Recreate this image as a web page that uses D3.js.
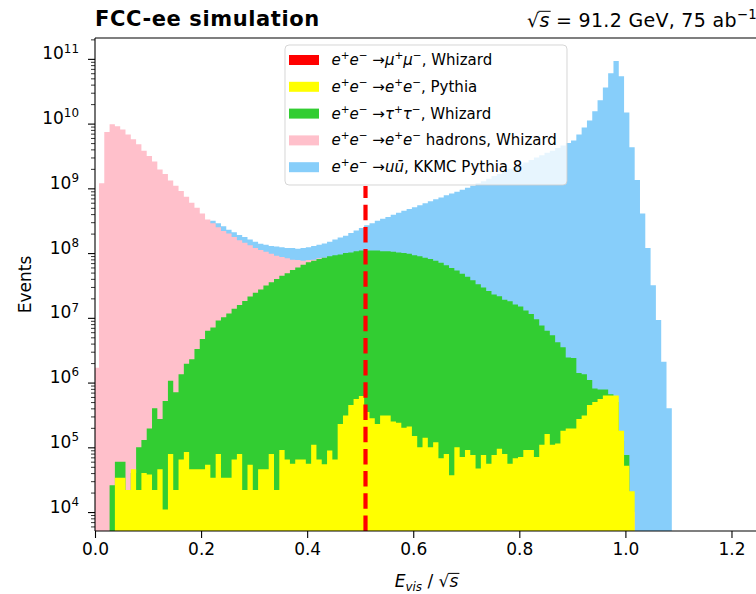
<!DOCTYPE html>
<html lang="en">
<head>
<meta charset="UTF-8">
<title>FCC-ee simulation - visible energy</title>
<script src="https://cdn.jsdelivr.net/npm/d3@7"></script>
<style>
  body { margin: 0; background: #fff; }
  svg text { font-family: "DejaVu Sans", sans-serif; fill: #000; }
</style>
</head>
<body>
<script>
// Histogram binning (E_vis / sqrt(s)), one count per bin
const binStart = -0.0025;
const binWidth = 0.01;

// Events per bin
const mumuCounts = [];  // nothing above the axis floor
const eeCounts = [
  0, 0, 0, 0, 3.4e4, 3.4e4, 2.2e4, 4.6e4, 2.2e4, 4.0e4,
  3.8e4, 2.2e4, 4.6e4, 1.1e4, 7.9e4, 2.2e4, 6.5e4, 8.5e4, 4.6e4, 4.6e4,
  4.6e4, 5.4e4, 3.4e4, 7.9e4, 3.4e4, 3.4e4, 6.5e4, 7.9e4, 2.2e4, 5.4e4,
  2.2e4, 4.6e4, 4.6e4, 7.9e4, 2.2e4, 9.1e4, 6.5e4, 5.6e4, 6.5e4, 6.5e4,
  5.6e4, 1.1e5, 6.5e4, 5.5e4, 8.9e4, 6.5e4, 2.3e5, 3.1e5, 4.5e5, 5.6e5,
  6.2e5, 3.5e5, 2.8e5, 2.3e5, 3.1e5, 3.1e5, 2.5e5, 2.4e5, 2.0e5, 2.1e5,
  1.5e5, 1.0e5, 1.4e5, 1.0e5, 1.2e5, 6.8e4, 7.9e4, 3.7e4, 1.0e5, 7.1e4,
  9.1e4, 7.6e4, 4.7e4, 7.6e4, 5.6e4, 7.6e4, 9.5e4, 7.9e4, 5.6e4, 6.8e4,
  7.1e4, 9.1e4, 9.1e4, 7.1e4, 1.1e5, 1.6e5, 1.1e5, 1.15e5, 1.8e5, 1.95e5,
  1.95e5, 2.75e5, 3.1e5, 4.5e5, 5.0e5, 5.6e5, 6.3e5, 6.3e5, 6.3e5, 1.8e5,
  5.2e4, 2.1e4
];
const tautauCounts = [
  0, 0, 0, 2.6e4, 6.0e4, 6.0e4, 2.0e4, 4.0e4, 1.0e5, 1.3e5,
  1.95e5, 4.0e5, 2.75e5, 5.2e5, 1.07e6, 7.1e5, 1.35e6, 1.95e6, 2.3e6, 3.3e6,
  4.7e6, 6.3e6, 7.1e6, 9.1e6, 1.02e7, 1.17e7, 1.38e7, 1.58e7, 1.82e7, 2.14e7,
  2.45e7, 2.75e7, 3.16e7, 3.55e7, 3.98e7, 4.47e7, 4.9e7, 5.5e7, 6.0e7, 6.6e7,
  7.2e7, 7.6e7, 8.1e7, 8.5e7, 8.9e7, 9.3e7, 9.5e7, 1.0e8, 1.02e8, 1.07e8,
  1.1e8, 1.1e8, 1.1e8, 1.1e8, 1.07e8, 1.07e8, 1.05e8, 1.02e8, 1.0e8, 9.8e7,
  9.3e7, 8.9e7, 8.5e7, 8.1e7, 7.6e7, 7.1e7, 6.5e7, 5.9e7, 5.4e7, 4.8e7,
  4.3e7, 3.8e7, 3.3e7, 2.95e7, 2.6e7, 2.3e7, 2.15e7, 1.9e7, 1.8e7, 1.6e7,
  1.5e7, 1.3e7, 1.15e7, 9.5e6, 7.6e6, 6.3e6, 5.4e6, 4.2e6, 3.5e6, 2.45e6,
  2.4e6, 1.4e6, 1.35e6, 1.1e6, 8.1e5, 7.8e5, 7.8e5, 6.6e5, 5.0e5, 1.26e5,
  7.6e4
];
const hadronsCounts = [
  1.7e6, 1.2e9, 7.4e9, 9.8e9, 9.1e9, 8.1e9, 6.8e9, 5.75e9, 4.8e9, 3.8e9,
  3.16e9, 2.6e9, 1.95e9, 1.66e9, 1.32e9, 1.1e9, 9.1e8, 7.4e8, 6.0e8, 5.0e8,
  4.1e8, 3.3e8, 2.9e8, 2.5e8, 2.2e8, 2.0e8, 1.78e8, 1.58e8, 1.45e8, 1.32e8,
  1.2e8, 1.12e8, 1.05e8, 9.8e7, 9.1e7, 8.7e7, 8.3e7, 7.9e7, 7.8e7, 7.6e7,
  7.8e7, 7.9e7, 8.3e7, 8.5e7, 6.3e7, 5.2e7, 4.5e7, 3.8e7, 3.2e7, 2.7e7,
  2.3e7, 2.0e7, 1.7e7, 1.5e7, 1.3e7, 1.1e7, 9.5e6, 8.3e6, 7.2e6, 6.3e6,
  5.5e6, 4.8e6, 4.2e6, 3.7e6, 3.2e6, 2.8e6, 2.5e6, 2.2e6, 1.9e6, 1.7e6,
  1.5e6, 1.3e6, 1.15e6, 1.0e6, 9.0e5, 8.0e5, 7.0e5, 6.2e5, 5.5e5, 4.8e5,
  4.3e5, 3.8e5, 3.4e5, 3.0e5, 2.7e5, 2.4e5, 2.1e5, 1.9e5, 1.7e5, 1.5e5,
  1.3e5, 1.15e5, 1.0e5, 9.0e4, 8.0e4, 7.0e4, 6.0e4, 5.0e4, 4.0e4, 3.0e4,
  2.0e4, 1.0e4
];
const uuCounts = [
  8.0e5, 4.0e7, 6.3e7, 7.9e7, 1.0e8, 1.1e8, 1.25e8, 1.4e8, 1.6e8, 1.8e8,
  1.9e8, 2.0e8, 2.1e8, 2.2e8, 2.4e8, 2.5e8, 2.6e8, 2.75e8, 2.9e8, 2.95e8,
  3.0e8, 3.1e8, 3.16e8, 2.9e8, 2.6e8, 2.3e8, 2.1e8, 1.9e8, 1.78e8, 1.62e8,
  1.5e8, 1.4e8, 1.35e8, 1.29e8, 1.26e8, 1.23e8, 1.2e8, 1.2e8, 1.17e8, 1.2e8,
  1.23e8, 1.29e8, 1.35e8, 1.41e8, 1.5e8, 1.62e8, 1.74e8, 1.86e8, 2.04e8, 2.24e8,
  2.45e8, 2.7e8, 2.9e8, 3.16e8, 3.4e8, 3.6e8, 3.9e8, 4.2e8, 4.5e8, 4.8e8,
  5.1e8, 5.5e8, 5.9e8, 6.3e8, 6.8e8, 7.2e8, 7.8e8, 8.3e8, 8.9e8, 9.5e8,
  1.02e9, 1.1e9, 1.2e9, 1.29e9, 1.41e9, 1.55e9, 1.66e9, 1.82e9, 2.0e9, 2.14e9,
  2.34e9, 2.5e9, 2.75e9, 3.0e9, 3.24e9, 3.55e9, 3.8e9, 4.2e9, 4.6e9, 5.0e9,
  5.5e9, 6.8e9, 8.7e9, 1.12e10, 1.55e10, 2.3e10, 3.6e10, 6.0e10, 9.3e10, 5.4e10,
  1.48e10, 4.3e9, 1.35e9, 4.1e8, 1.2e8, 3.2e7, 9.3e6, 2.1e6, 4.0e5
];

const xTicks = [0, 0.2, 0.4, 0.6, 0.8, 1.0, 1.2];
const yTickExps = [4, 5, 6, 7, 8, 9, 10, 11];
const cutValue = 0.51;   // dashed vertical cut

// legend label pieces: [text, flags]  i = italic, sup = superscript
const lead = [["e", "i"], ["+", "sup"], ["e", "i"], ["\u2212", "sup"], [" \u2192", ""]];
const series = [
  {counts: mumuCounts, color: "#ff0000",
   label: lead.concat([["\u03bc", "i"], ["+", "sup"], ["\u03bc", "i"], ["\u2212", "sup"], [", Whizard", ""]])},
  {counts: eeCounts, color: "#ffff00",
   label: lead.concat([["e", "i"], ["+", "sup"], ["e", "i"], ["\u2212", "sup"], [", Pythia", ""]])},
  {counts: tautauCounts, color: "#32cd32",
   label: lead.concat([["\u03c4", "i"], ["+", "sup"], ["\u03c4", "i"], ["\u2212", "sup"], [", Whizard", ""]])},
  {counts: hadronsCounts, color: "#ffc0cb",
   label: lead.concat([["e", "i"], ["+", "sup"], ["e", "i"], ["\u2212", "sup"], [" hadrons, Whizard", ""]])},
  {counts: uuCounts, color: "#87cefa",
   label: lead.concat([["u\u016b", "i"], [", KKMC Pythia 8", ""]])}
];

const W = 756, H = 594;
const pLeft = 95, pRight = 758, pTop = 38, pBottom = 531;

const svg = d3.select("body").append("svg")
    .attr("width", W).attr("height", H);

const x = d3.scaleLinear().domain([0, 1.25]).range([pLeft, pRight]);
const y = d3.scaleLog().domain([5.1e3, 2.1e11]).range([pBottom, pTop]);

// text with italic / superscript / subscript pieces
function rich(text, parts, size) {
  let cur = 0;
  const bars = [];
  parts.forEach(([t, f]) => {
    const off = f.includes("sup") ? -0.4 * size : f.includes("sub") ? 0.25 * size : 0;
    const ts = text.append("tspan").attr("dy", off - cur).text(t);
    cur = off;
    if (f.includes("sup") || f.includes("sub")) ts.style("font-size", (0.7 * size) + "px");
    if (f.includes("i")) ts.style("font-style", "italic");
    if (f.includes("bar")) bars.push(ts);
  });
  return bars;
}
function sqrtBars(g, bars, baseline, size) {
  bars.forEach(ts => {
    const b = ts.node().getBBox();
    g.append("line")
        .attr("x1", b.x - 1).attr("x2", b.x + b.width + 1)
        .attr("y1", baseline - 0.8 * size).attr("y2", baseline - 0.8 * size)
        .attr("stroke", "#000").attr("stroke-width", 1);
  });
}

// histograms, back to front
svg.append("clipPath").attr("id", "plot-clip")
  .append("rect").attr("x", pLeft).attr("y", pTop)
    .attr("width", pRight - pLeft).attr("height", pBottom - pTop);

const area = d3.area()
    .curve(d3.curveStepAfter)
    .x(d => x(d[0]))
    .y0(pBottom)
    .y1(d => d[1] > 0 ? y(d[1]) : pBottom);

const hist = svg.append("g").attr("clip-path", "url(#plot-clip)");
series.slice().reverse().forEach(s => {
  if (!s.counts.length) return;
  const pts = s.counts.map((c, i) => [binStart + i * binWidth, c]);
  pts.push([binStart + s.counts.length * binWidth, s.counts[s.counts.length - 1]]);
  hist.append("path").attr("d", area(pts)).attr("fill", s.color);
});

// dashed cut line (70% of axis height)
svg.append("line")
    .attr("x1", x(cutValue)).attr("x2", x(cutValue))
    .attr("y1", pBottom).attr("y2", pBottom - 0.7 * (pBottom - pTop))
    .attr("stroke", "#ff0000").attr("stroke-width", 4.2)
    .attr("stroke-dasharray", "15.5 6.7");

// axes
const xAxis = svg.append("g")
    .attr("transform", `translate(0,${pBottom})`)
    .call(d3.axisBottom(x).tickValues(xTicks).tickSize(7).tickPadding(5)
      .tickFormat(d3.format(".1f")));
xAxis.select(".domain").remove();
xAxis.selectAll("text").style("font-size", "17px");
xAxis.selectAll("line").attr("stroke-width", 1.1);

const minorVals = [];
for (let e = 3; e <= 11; e++) {
  for (let m = 2; m <= 9; m++) {
    const v = m * Math.pow(10, e);
    if (v > y.domain()[0] && v < y.domain()[1]) minorVals.push(v);
  }
}
const yMinor = svg.append("g")
    .attr("transform", `translate(${pLeft},0)`)
    .call(d3.axisLeft(y).tickValues(minorVals).tickSize(4).tickFormat(""));
yMinor.select(".domain").remove();
yMinor.selectAll("line").attr("stroke-width", 0.8);

const yAxis = svg.append("g")
    .attr("transform", `translate(${pLeft},0)`)
    .call(d3.axisLeft(y).tickValues(yTickExps.map(e => Math.pow(10, e)))
      .tickSize(7).tickPadding(9).tickFormat(""));
yAxis.select(".domain").remove();
yAxis.selectAll("line").attr("stroke-width", 1.1);
yAxis.selectAll(".tick text").each(function(d) {
  const t = d3.select(this).style("font-size", "17px");
  rich(t, [["10", ""], [String(Math.round(Math.log10(d))), "sup"]], 17);
});

// spines
const spines = svg.append("g").attr("stroke", "#000").attr("stroke-width", 1.1);
spines.append("line").attr("x1", pLeft).attr("x2", pLeft).attr("y1", pTop).attr("y2", pBottom);
spines.append("line").attr("x1", pLeft).attr("x2", pRight).attr("y1", pTop).attr("y2", pTop);
spines.append("line").attr("x1", pLeft).attr("x2", pRight).attr("y1", pBottom).attr("y2", pBottom);
spines.append("line").attr("x1", pRight).attr("x2", pRight).attr("y1", pTop).attr("y2", pBottom);

// titles
svg.append("text")
    .attr("x", pLeft).attr("y", 26)
    .style("font-size", "21px").style("font-weight", "bold")
    .style("letter-spacing", "0.6px")
    .text("FCC-ee simulation");

const rt = svg.append("text")
    .attr("x", 757).attr("y", 26.5)
    .attr("text-anchor", "end")
    .style("font-size", "19px")
    .style("letter-spacing", "0.3px");
sqrtBars(svg, rich(rt, [["\u221a", ""], ["s", "ibar"], [" = 91.2 GeV, 75 ab", ""], ["\u22121", "sup"]], 19), 26.5, 19);

// axis labels
const xl = svg.append("text")
    .attr("x", (pLeft + pRight) / 2).attr("y", 587)
    .attr("text-anchor", "middle")
    .style("font-size", "17px");
sqrtBars(svg, rich(xl, [["E", "i"], ["vis", "isub"], [" / ", ""], ["\u221a", ""], ["s", "ibar"]], 17), 587, 17);

svg.append("text")
    .attr("transform", `translate(31,${(pTop + pBottom) / 2}) rotate(-90)`)
    .attr("text-anchor", "middle")
    .style("font-size", "17px")
    .text("Events");

// legend
const lg = svg.append("g");
lg.append("rect")
    .attr("x", 285).attr("y", 45).attr("width", 282).attr("height", 140)
    .attr("rx", 4)
    .attr("fill", "#fff").attr("fill-opacity", 0.8)
    .attr("stroke", "#cccccc").attr("stroke-opacity", 0.8);
series.forEach((s, i) => {
  const cy = 60 + i * 26.8;
  lg.append("rect")
      .attr("x", 289).attr("y", cy - 5).attr("width", 30).attr("height", 10)
      .attr("fill", s.color);
  const t = lg.append("text")
      .attr("x", 331.5).attr("y", cy + 5)
      .style("font-size", "15px");
  rich(t, s.label, 15);
});
</script>
</body>
</html>
